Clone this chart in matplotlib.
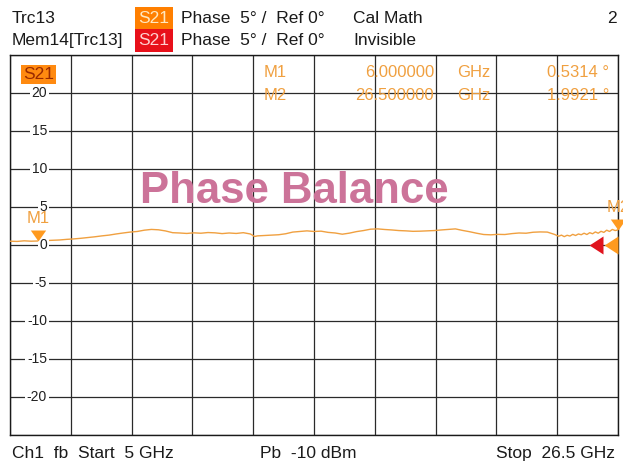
import numpy as np
import matplotlib
matplotlib.use("Agg")
import matplotlib.pyplot as plt
from matplotlib.path import Path
from matplotlib.transforms import ScaledTranslation, blended_transform_factory

plt.rcParams['font.family'] = ['Liberation Sans', 'DejaVu Sans']

# ---------------- data ----------------
freq_ghz = [5.00, 5.25, 5.50, 5.75, 6.00, 6.25, 6.50, 6.75, 7.00, 7.25, 7.50, 7.75,
            8.00, 8.25, 8.50, 8.75, 9.00, 9.25, 9.50, 9.75, 10.00, 10.25, 10.50, 10.75,
            11.00, 11.25, 11.50, 11.75, 12.00, 12.25, 12.50, 12.75, 13.00, 13.25, 13.50,
            13.65, 13.75, 14.00, 14.25, 14.50, 14.75, 15.00, 15.25, 15.50, 15.75, 16.00,
            16.25, 16.50, 16.75, 17.00, 17.25, 17.50, 17.75, 18.00, 18.25, 18.50, 18.75,
            19.00, 19.25, 19.50, 19.75, 20.00, 20.25, 20.50, 20.75, 21.00, 21.25, 21.50,
            21.75, 22.00, 22.25, 22.50, 22.75, 23.00, 23.25, 23.50, 23.75, 24.00, 24.25,
            24.40, 24.50, 24.60, 24.70, 24.80, 24.90, 25.00, 25.10, 25.20, 25.30, 25.40,
            25.50, 25.60, 25.70, 25.80, 25.90, 26.00, 26.10, 26.20, 26.30, 26.40, 26.50]
phase_deg = [0.50, 0.47, 0.55, 0.50, 0.53, 0.58, 0.62, 0.66, 0.74, 0.80, 0.88, 0.98,
             1.08, 1.20, 1.30, 1.45, 1.58, 1.70, 1.78, 1.95, 2.05, 2.00, 1.85, 1.62,
             1.58, 1.52, 1.60, 1.55, 1.64, 1.60, 1.50, 1.58, 1.52, 1.62, 1.45,
             1.12, 1.20, 1.25, 1.30, 1.35, 1.48, 1.70, 1.78, 1.86, 1.78, 1.82,
             1.66, 1.58, 1.42, 1.56, 1.76, 1.90, 2.08, 2.12, 2.04, 1.98, 1.90,
             1.86, 1.80, 1.82, 1.86, 1.90, 1.98, 2.05, 2.12, 1.92, 1.75, 1.55,
             1.38, 1.34, 1.40, 1.38, 1.50, 1.58, 1.55, 1.68, 1.72, 1.70, 1.40,
             1.15, 1.30, 1.10, 1.28, 1.18, 1.40, 1.25, 1.45, 1.35, 1.55, 1.38,
             1.62, 1.48, 1.72, 1.55, 1.80, 1.66, 1.95, 1.78, 2.05, 1.90, 1.99]

marker_names = ["M1", "M2"]
marker_freq = [6.0, 26.5]
marker_value = [0.5314, 1.9921]
marker_freq_text = ["6.000000", "26.500000"]
marker_value_text = ["0.5314 °", "1.9921 °"]

start_ghz, stop_ghz = 5.0, 26.5
ref_value = 0.0
y_min, y_max, y_div = -25, 25, 5
y_labels = [20, 15, 10, 5, 0, -5, -10, -15, -20]

# ---------------- figure ----------------
W, H = 623, 466
fig = plt.figure(figsize=(W / 100, H / 100), dpi=100)
fig.patch.set_facecolor('white')

def fx(x):
    return x / W

def fy(y):
    return 1 - y / H

ax = fig.add_axes([fx(10), fy(435), (618 - 10) / W, (435 - 55) / H])
ax.set_xlim(start_ghz, stop_ghz)
ax.set_ylim(y_min, y_max)
ax.set_xticks(np.linspace(start_ghz, stop_ghz, 11))
ax.set_yticks(np.arange(y_min, y_max + 1, y_div))
ax.tick_params(length=0, labelbottom=False, labelleft=False)
ax.grid(True, color='#2a2a2a', lw=0.9)
for s in ax.spines.values():
    s.set_color('#1a1a1a')
    s.set_linewidth(1.0)

# trace
ax.plot(freq_ghz, phase_deg, color='#f0a040', lw=1.0, zorder=3)

# y labels (inside, right aligned, white background)
tlab = blended_transform_factory(ax.transAxes, ax.transData)
for v in y_labels:
    ax.text((47 - 10) / 608, v, str(v), transform=tlab, ha='right', va='center',
            fontsize=10, color='#202020', zorder=4,
            bbox=dict(facecolor='white', edgecolor='none', pad=1.2))

# watermark
fig.text(fx(294), fy(203), "Phase Balance", ha='center', va='baseline',
         fontsize=31.5, fontweight='bold', color='#cc7399', zorder=5)

# markers
down_tri = Path([(0, 0), (-0.7, 1.0), (0.7, 1.0), (0, 0)],
                [Path.MOVETO, Path.LINETO, Path.LINETO, Path.CLOSEPOLY])
for name, f, v in zip(marker_names, marker_freq, marker_value):
    ax.plot([f], [v], marker=down_tri, markersize=15.8, color='#ff9a1f',
            markeredgewidth=0, clip_on=False, zorder=6)
    ax.annotate(name, xy=(f, v), xytext=(0, 15), textcoords='offset pixels',
                ha='center', va='bottom', fontsize=12, color='#f0a040',
                annotation_clip=False, zorder=6)

# reference markers at right edge
left_tri = Path([(0, -0.65), (0, 0.65), (-1.0, 0), (0, -0.65)],
                [Path.MOVETO, Path.LINETO, Path.LINETO, Path.CLOSEPOLY])
ax.plot([stop_ghz], [ref_value], marker=left_tri, markersize=20, color='#e0141e',
        markeredgewidth=0, clip_on=False, zorder=6,
        transform=ax.transData + ScaledTranslation(-15 / 100, 0, fig.dpi_scale_trans))
ax.plot([stop_ghz], [ref_value], marker=left_tri, markersize=20, color='#ff9a1f',
        markeredgewidth=0, clip_on=False, zorder=7)

# S21 tag inside plot
fig.text(fx(38.5), fy(79), "S21", ha='center', va='baseline', fontsize=12.5,
         color='#9a2a00', zorder=8,
         bbox=dict(facecolor='#ff8a10', edgecolor='none', boxstyle='square,pad=0.12'))

# marker readouts
for i, (name, ft, vt) in enumerate(zip(marker_names, marker_freq_text, marker_value_text)):
    yb = fy(77 + 23 * i)
    c = '#f0a040'
    fig.text(fx(264), yb, name, ha='left', va='baseline', fontsize=12, color=c, zorder=8)
    fig.text(fx(434), yb, ft, ha='right', va='baseline', fontsize=12, color=c, zorder=8)
    fig.text(fx(457), yb, "GHz", ha='left', va='baseline', fontsize=12, color=c, zorder=8)
    fig.text(fx(609), yb, vt, ha='right', va='baseline', fontsize=12, color=c, zorder=8)

# header
hfs = 12.5
fig.text(fx(12), fy(23), "Trc13", ha='left', va='baseline', fontsize=hfs, color='#1a1a1a')
fig.text(fx(12), fy(45), "Mem14[Trc13]", ha='left', va='baseline', fontsize=hfs, color='#1a1a1a')
fig.text(fx(154), fy(23), "S21", ha='center', va='baseline', fontsize=hfs, color='#ffe8c0',
         bbox=dict(facecolor='#ff7f00', edgecolor='none', boxstyle='square,pad=0.22'))
fig.text(fx(154), fy(45), "S21", ha='center', va='baseline', fontsize=hfs, color='#ffd0d0',
         bbox=dict(facecolor='#e8101a', edgecolor='none', boxstyle='square,pad=0.22'))
for yb in (23, 45):
    fig.text(fx(181), fy(yb), "Phase  5° /  Ref 0°", ha='left', va='baseline',
             fontsize=hfs, color='#1a1a1a')
fig.text(fx(353), fy(23), "Cal Math", ha='left', va='baseline', fontsize=hfs, color='#1a1a1a')
fig.text(fx(353), fy(45), "Invisible", ha='left', va='baseline', fontsize=hfs, color='#1a1a1a')
fig.text(fx(617), fy(23), "2", ha='right', va='baseline', fontsize=hfs, color='#1a1a1a')

# footer
fig.text(fx(12), fy(458), "Ch1  fb  Start  5 GHz", ha='left', va='baseline', fontsize=hfs, color='#1a1a1a')
fig.text(fx(260), fy(458), "Pb  -10 dBm", ha='left', va='baseline', fontsize=hfs, color='#1a1a1a')
fig.text(fx(615), fy(458), "Stop  26.5 GHz", ha='right', va='baseline', fontsize=hfs, color='#1a1a1a')

fig.savefig("out.png", dpi=100, facecolor='white')
